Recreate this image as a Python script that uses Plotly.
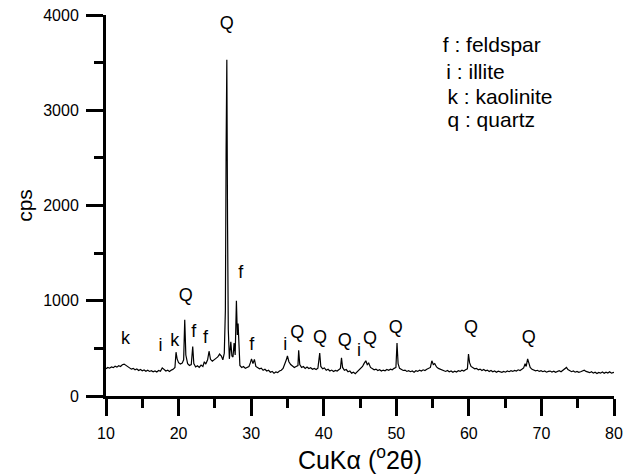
import plotly.graph_objects as go

two_theta = [
    10.00, 10.25, 10.50, 10.75, 11.00, 11.25, 11.50, 11.75, 12.00, 12.25, 12.50, 12.75,
    13.00, 13.25, 13.50, 13.75, 14.00, 14.25, 14.50, 14.75, 15.00, 15.25, 15.50, 15.75,
    16.00, 16.25, 16.50, 16.75, 17.00, 17.25, 17.50, 17.75, 18.00, 18.25, 18.50, 18.75,
    19.00, 19.25, 19.50, 19.65, 19.80, 20.00, 20.25, 20.50, 20.70, 20.85, 21.00, 21.25,
    21.50, 21.75, 21.95, 22.10, 22.35, 22.60, 22.85, 23.10, 23.35, 23.55, 23.75, 24.00,
    24.20, 24.40, 24.65, 24.90, 25.15, 25.40, 25.65, 25.90, 26.10, 26.30, 26.45, 26.55,
    26.65, 26.75, 26.85, 27.00, 27.20, 27.35, 27.50, 27.65, 27.80, 27.97, 28.10, 28.20,
    28.32, 28.45, 28.70, 28.95, 29.20, 29.45, 29.70, 29.90, 30.05, 30.25, 30.45, 30.65,
    30.90, 31.15, 31.40, 31.65, 31.90, 32.15, 32.40, 32.65, 32.90, 33.15, 33.40, 33.65,
    33.90, 34.15, 34.40, 34.65, 34.85, 35.00, 35.20, 35.45, 35.70, 35.95, 36.20, 36.45,
    36.55, 36.70, 36.95, 37.20, 37.45, 37.70, 37.95, 38.20, 38.45, 38.70, 38.95, 39.20,
    39.45, 39.60, 39.85, 40.10, 40.35, 40.60, 40.85, 41.10, 41.35, 41.60, 41.85, 42.10,
    42.30, 42.45, 42.60, 42.85, 43.10, 43.35, 43.60, 43.85, 44.10, 44.35, 44.60, 44.85,
    45.10, 45.35, 45.55, 45.80, 46.00, 46.20, 46.45, 46.70, 46.95, 47.20, 47.45, 47.70,
    47.95, 48.20, 48.45, 48.70, 48.95, 49.20, 49.45, 49.70, 49.95, 50.10, 50.25, 50.45,
    50.70, 50.95, 51.20, 51.45, 51.70, 51.95, 52.20, 52.45, 52.70, 52.95, 53.20, 53.45,
    53.70, 53.95, 54.20, 54.45, 54.70, 54.90, 55.10, 55.30, 55.55, 55.80, 56.05, 56.30,
    56.55, 56.80, 57.05, 57.30, 57.55, 57.80, 58.05, 58.30, 58.55, 58.80, 59.05, 59.30,
    59.55, 59.80, 59.95, 60.10, 60.30, 60.55, 60.80, 61.05, 61.30, 61.55, 61.80, 62.05,
    62.30, 62.55, 62.80, 63.05, 63.30, 63.55, 63.80, 64.05, 64.30, 64.55, 64.80, 65.05,
    65.30, 65.55, 65.80, 66.05, 66.30, 66.55, 66.80, 67.05, 67.30, 67.55, 67.75, 67.90,
    68.10, 68.25, 68.45, 68.70, 68.95, 69.20, 69.45, 69.70, 69.95, 70.20, 70.45, 70.70,
    70.95, 71.20, 71.45, 71.70, 71.95, 72.20, 72.45, 72.70, 72.95, 73.20, 73.45, 73.65,
    73.90, 74.15, 74.40, 74.65, 74.90, 75.15, 75.40, 75.65, 75.90, 76.15, 76.40, 76.65,
    76.90, 77.15, 77.40, 77.65, 77.90, 78.15, 78.40, 78.65, 78.90, 79.15, 79.40, 79.65,
    80.00,
]

cps = [
    285, 300, 292, 305, 298, 312, 303, 318, 310, 328, 335, 322,
    305, 296, 282, 290, 276, 284, 268, 279, 265, 274, 260, 270,
    258, 266, 255, 263, 252, 268, 260, 295, 275, 262, 270, 258,
    272, 280, 300, 460, 390, 350, 335, 345, 380, 800, 430, 340,
    320, 330, 520, 340, 305, 318, 300, 325, 310, 360, 335, 380,
    470, 385, 365, 385, 395, 410, 440, 420, 380, 450, 900, 2600,
    3530, 1800, 700, 390, 570, 420, 410, 556, 430, 1000, 640, 760,
    430, 320, 300, 310, 290, 300, 310, 350, 390, 340, 385, 310,
    300, 285, 292, 270, 280, 262, 270, 250, 258, 240, 252, 245,
    262, 270, 290, 330, 380, 420, 360, 330, 318, 300, 310, 320,
    480, 330, 300, 310, 290, 305, 288, 296, 280, 290, 278, 292,
    450, 310, 285, 295, 270, 280, 262, 272, 258, 268, 262, 275,
    290, 400, 300, 270, 278, 255, 262, 240, 250, 235, 255, 270,
    290, 310, 340, 370, 330, 345, 300, 285, 275, 282, 268, 276,
    262, 272, 265, 278, 270, 282, 275, 290, 300, 555, 340, 290,
    275, 268, 272, 258, 266, 255, 262, 250, 265, 258, 270, 262,
    275, 268, 280, 290, 300, 370, 330, 340, 305, 290, 280, 272,
    265, 258, 268, 255, 262, 250, 260, 252, 265, 258, 270, 262,
    275, 285, 440, 350, 310, 295, 285, 290, 275, 282, 268, 278,
    265, 272, 258, 268, 255, 262, 250, 260, 255, 248, 258, 250,
    262, 255, 265, 258, 268, 262, 275, 268, 280, 295, 340, 310,
    390, 360, 300, 280, 272, 265, 270, 258, 265, 255, 262, 250,
    258, 262, 252, 260, 248, 258, 265, 255, 270, 275, 300, 278,
    262, 255, 262, 250, 258, 248, 255, 262, 270, 258, 250, 245,
    255, 240, 250, 236, 248, 240, 252, 238, 250, 242, 255, 240,
    248,
]

peak_labels = ["k", "i", "k", "Q", "f", "f", "Q", "f", "f", "i", "Q", "Q", "Q", "i", "Q", "Q", "Q", "Q"]
label_x = [12.7, 17.5, 19.46, 20.98, 22.1, 23.7, 26.64, 28.57, 30.1, 34.7, 36.35, 39.5, 42.9, 44.86, 46.38, 49.93, 60.3, 68.24]
label_y = [588, 518, 570, 1043, 665, 606, 3900, 1288, 525, 535, 658, 606, 577, 465, 588, 711, 711, 606]

key_lines = ["f : feldspar", "i : illite", "k : kaolinite", "q : quartz"]
key_x = [56.4, 56.9, 57.05, 57.05]
key_y = [3668, 3385, 3118, 2875]

FONT = "Liberation Sans, Arial, sans-serif"

fig = go.Figure()
fig.add_trace(go.Scatter(x=two_theta, y=cps, mode="lines",
                         line=dict(color="rgb(0,0,0)", width=1.2), hoverinfo="skip"))
fig.add_trace(go.Scatter(x=label_x, y=label_y, mode="text", text=peak_labels,
                         textposition="middle center", hoverinfo="skip",
                         textfont=dict(family=FONT, size=18, color="black")))
fig.add_trace(go.Scatter(x=key_x, y=key_y, mode="text", text=key_lines,
                         textposition="middle right", hoverinfo="skip",
                         textfont=dict(family=FONT, size=21, color="black")))

fig.update_xaxes(range=[10, 80], tick0=10, dtick=10,
                 showline=True, linecolor="rgb(0,0,0)", linewidth=3, mirror=False,
                 ticks="outside", ticklen=17, tickwidth=3, tickcolor="rgb(0,0,0)",
                 ticklabelstandoff=4,
                 minor=dict(dtick=5, ticks="outside", ticklen=9, tickwidth=3,
                            tickcolor="rgb(0,0,0)"),
                 tickfont=dict(family=FONT, size=16, color="black"),
                 title=dict(text="CuKα (<sup>o</sup>2θ)", standoff=6,
                            font=dict(family=FONT, size=25, color="black")),
                 showgrid=False, zeroline=False)
fig.update_yaxes(range=[0, 4000], tick0=0, dtick=1000,
                 showline=True, linecolor="rgb(0,0,0)", linewidth=3, mirror=False,
                 ticks="outside", ticklen=17, tickwidth=3, tickcolor="rgb(0,0,0)",
                 ticklabelstandoff=4,
                 minor=dict(dtick=500, ticks="outside", ticklen=9, tickwidth=3,
                            tickcolor="rgb(0,0,0)"),
                 tickfont=dict(family=FONT, size=16, color="black"),
                 title=dict(text="cps", standoff=5,
                            font=dict(family=FONT, size=21, color="black")),
                 showgrid=False, zeroline=False)

fig.update_layout(width=636, height=475, margin=dict(l=106, r=22, t=15, b=79),
                  plot_bgcolor="white", paper_bgcolor="white", template="none",
                  font=dict(family=FONT, color="black"), showlegend=False)

fig.write_html("out.html", config={"staticPlot": True})
